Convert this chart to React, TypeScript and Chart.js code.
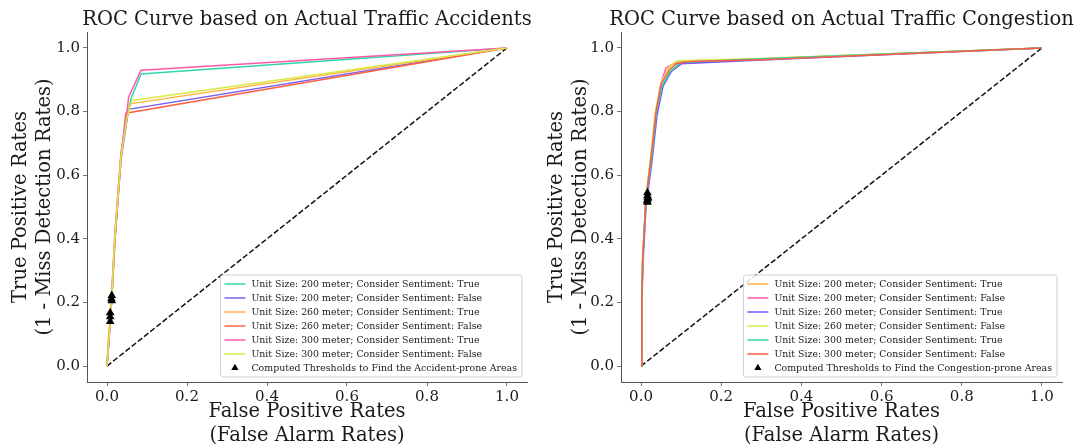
import React, { useEffect, useRef } from 'react';
import { Chart, registerables } from 'chart.js';
Chart.register(...registerables);

const FONT = "'DejaVu Serif', serif";
const TEXT = '#1a1a1a';
const SPINE = '#555555';

const tickValues = [0, 0.2, 0.4, 0.6, 0.8, 1.0];
const tickLabels = ['0.0', '0.2', '0.4', '0.6', '0.8', '1.0'];

const accidentTitle = 'ROC Curve based on Actual Traffic Accidents';
const congestionTitle = 'ROC Curve based on Actual Traffic Congestion';
const xTitle = ['False Positive Rates', '(False Alarm Rates)'];
const yTitle = ['True Positive Rates', '(1 - Miss Detection Rates)'];

const diagX = [0, 1];
const diagY = [0, 1];

// ---------- Accidents panel ----------
const accLabels = [
  'Unit Size: 200 meter; Consider Sentiment: True',
  'Unit Size: 200 meter; Consider Sentiment: False',
  'Unit Size: 260 meter; Consider Sentiment: True',
  'Unit Size: 260 meter; Consider Sentiment: False',
  'Unit Size: 300 meter; Consider Sentiment: True',
  'Unit Size: 300 meter; Consider Sentiment: False',
];
const accColors = ['#33d6aa', '#7b63ef', '#ffb347', '#ff6347', '#ff5aa8', '#d9ea4a'];
const accThresholdLabel = 'Computed Thresholds to Find the Accident-prone Areas';

const acc200TrueFpr = [0, 0.004, 0.012, 0.02, 0.035, 0.05, 0.06, 0.085, 1];
const acc200TrueTpr = [0, 0.06, 0.22, 0.4, 0.66, 0.78, 0.84, 0.918, 1];
const acc200FalseFpr = [0, 0.004, 0.012, 0.02, 0.035, 0.054, 1];
const acc200FalseTpr = [0, 0.07, 0.21, 0.4, 0.65, 0.807, 1];
const acc260TrueFpr = [0, 0.003, 0.011, 0.02, 0.035, 0.05, 0.06, 1];
const acc260TrueTpr = [0, 0.08, 0.22, 0.42, 0.67, 0.79, 0.825, 1];
const acc260FalseFpr = [0, 0.004, 0.012, 0.02, 0.035, 0.047, 1];
const acc260FalseTpr = [0, 0.07, 0.21, 0.4, 0.65, 0.795, 1];
const acc300TrueFpr = [0, 0.004, 0.012, 0.02, 0.035, 0.05, 0.054, 0.085, 1];
const acc300TrueTpr = [0, 0.07, 0.23, 0.42, 0.67, 0.8, 0.845, 0.93, 1];
const acc300FalseFpr = [0, 0.004, 0.012, 0.02, 0.035, 0.05, 0.0625, 1];
const acc300FalseTpr = [0, 0.07, 0.22, 0.41, 0.66, 0.78, 0.835, 1];

const accThresholdFpr = [0.012, 0.012, 0.008, 0.008, 0.008, 0.011];
const accThresholdTpr = [0.222, 0.205, 0.168, 0.155, 0.14, 0.212];

// ---------- Congestion panel ----------
const conLabels = [
  'Unit Size: 200 meter; Consider Sentiment: True',
  'Unit Size: 200 meter; Consider Sentiment: False',
  'Unit Size: 260 meter; Consider Sentiment: True',
  'Unit Size: 260 meter; Consider Sentiment: False',
  'Unit Size: 300 meter; Consider Sentiment: True',
  'Unit Size: 300 meter; Consider Sentiment: False',
];
const conColors = ['#ffb347', '#ff5aa8', '#6f5cff', '#d9ea4a', '#33d69a', '#ff5a4a'];
const conThresholdLabel = 'Computed Thresholds to Find the Congestion-prone Areas';

const con200TrueFpr = [0, 0.002, 0.004, 0.012, 0.025, 0.037, 0.05, 0.068, 0.085, 0.3, 1];
const con200TrueTpr = [0, 0.21, 0.34, 0.52, 0.66, 0.8, 0.885, 0.935, 0.955, 0.966, 1];
const con200FalseFpr = [0, 0.002, 0.004, 0.012, 0.025, 0.037, 0.05, 0.062, 0.08, 0.3, 1];
const con200FalseTpr = [0, 0.2, 0.33, 0.52, 0.665, 0.8, 0.89, 0.937, 0.95, 0.965, 1];
const con260TrueFpr = [0, 0.002, 0.005, 0.013, 0.027, 0.04, 0.055, 0.075, 0.1, 0.3, 1];
const con260TrueTpr = [0, 0.19, 0.33, 0.51, 0.64, 0.79, 0.88, 0.925, 0.95, 0.962, 1];
const con260FalseFpr = [0, 0.002, 0.004, 0.012, 0.025, 0.037, 0.05, 0.07, 0.09, 0.3, 1];
const con260FalseTpr = [0, 0.2, 0.34, 0.53, 0.67, 0.81, 0.89, 0.94, 0.96, 0.967, 1];
const con300TrueFpr = [0, 0.002, 0.004, 0.012, 0.026, 0.038, 0.052, 0.072, 0.1, 0.3, 1];
const con300TrueTpr = [0, 0.2, 0.33, 0.52, 0.65, 0.795, 0.88, 0.925, 0.955, 0.966, 1];
const con300FalseFpr = [0, 0.002, 0.004, 0.012, 0.025, 0.037, 0.05, 0.07, 0.09, 0.12, 0.3, 1];
const con300FalseTpr = [0, 0.21, 0.33, 0.52, 0.655, 0.797, 0.886, 0.93, 0.952, 0.957, 0.963, 1];

const conThresholdFpr = [0.016, 0.016, 0.017, 0.015, 0.016, 0.017];
const conThresholdTpr = [0.545, 0.535, 0.525, 0.52, 0.515, 0.53];

const zip = (xs: number[], ys: number[]) => xs.map((x, i) => ({ x, y: ys[i] }));

type Panel = {
  title: string;
  labels: string[];
  colors: string[];
  fprs: number[][];
  tprs: number[][];
  thrFpr: number[];
  thrTpr: number[];
  thrLabel: string;
  yAxisWidth: number;
  padRight: number;
  yTitlePad: number;
};

const accPanel: Panel = {
  title: accidentTitle,
  labels: accLabels,
  colors: accColors,
  fprs: [acc200TrueFpr, acc200FalseFpr, acc260TrueFpr, acc260FalseFpr, acc300TrueFpr, acc300FalseFpr],
  tprs: [acc200TrueTpr, acc200FalseTpr, acc260TrueTpr, acc260FalseTpr, acc300TrueTpr, acc300FalseTpr],
  thrFpr: accThresholdFpr,
  thrTpr: accThresholdTpr,
  thrLabel: accThresholdLabel,
  yAxisWidth: 87,
  padRight: 10,
  yTitlePad: 8.5,
};

const conPanel: Panel = {
  title: congestionTitle,
  labels: conLabels,
  colors: conColors,
  fprs: [con200TrueFpr, con200FalseFpr, con260TrueFpr, con260FalseFpr, con300TrueFpr, con300FalseFpr],
  tprs: [con200TrueTpr, con200FalseTpr, con260TrueTpr, con260FalseTpr, con300TrueTpr, con300FalseTpr],
  thrFpr: conThresholdFpr,
  thrTpr: conThresholdTpr,
  thrLabel: conThresholdLabel,
  yAxisWidth: 84,
  padRight: 13,
  yTitlePad: 7.5,
};

function makeConfig(p: Panel): any {
  const n = p.labels.length;
  const total = n + 2;
  const datasets: any[] = [];
  datasets.push({
    label: 'diag',
    data: zip(diagX, diagY),
    showLine: true,
    borderColor: '#111',
    borderWidth: 1.5,
    borderDash: [5.5, 2.4],
    pointRadius: 0,
    order: total,
  });
  for (let i = 0; i < n; i++) {
    datasets.push({
      label: p.labels[i],
      data: zip(p.fprs[i], p.tprs[i]),
      showLine: true,
      borderColor: p.colors[i],
      borderWidth: 1.5,
      pointRadius: 0,
      tension: 0,
      order: total - 1 - i,
    });
  }
  datasets.push({
    label: p.thrLabel,
    data: zip(p.thrFpr, p.thrTpr),
    showLine: false,
    pointStyle: 'triangle',
    pointRadius: 5,
    backgroundColor: '#000',
    borderColor: '#000',
    borderWidth: 0,
    order: 0,
  });

  const axis = (isX: boolean) => ({
    type: 'linear',
    min: -0.05,
    max: 1.05,
    afterBuildTicks: (s: any) => {
      s.ticks = tickValues.map((v) => ({ value: v }));
    },
    afterFit: (s: any) => {
      if (isX) s.height = 66;
      else s.width = p.yAxisWidth;
    },
    ticks: {
      callback: (_v: any, idx: number) => tickLabels[idx],
      font: { family: FONT, size: 15 },
      color: TEXT,
      padding: isX ? 2 : 3,
      maxRotation: 0,
      autoSkip: false,
    },
    grid: {
      display: true,
      drawOnChartArea: false,
      drawTicks: true,
      tickLength: 4,
      color: SPINE,
      lineWidth: 0.8,
    },
    border: { display: true, color: SPINE, width: 1 },
    title: {
      display: true,
      text: isX ? xTitle : yTitle,
      font: { family: FONT, size: 19.5, lineHeight: '24px' },
      color: TEXT,
      padding: isX ? { top: 0, bottom: 0 } : { top: p.yTitlePad, bottom: 0 },
    },
  });

  const overlay = {
    id: 'overlay' + p.title.length,
    afterDraw(chart: any) {
      const ctx = chart.ctx;
      const ca = chart.chartArea;
      ctx.save();
      // title
      ctx.font = `19.5px ${FONT}`;
      ctx.fillStyle = TEXT;
      ctx.textAlign = 'center';
      ctx.textBaseline = 'middle';
      ctx.fillText(p.title, (ca.left + ca.right) / 2, 20);

      // legend
      ctx.font = `9.4px ${FONT}`;
      const allLabels = [...p.labels, p.thrLabel];
      const textW = Math.max(...allLabels.map((l) => ctx.measureText(l).width));
      const rowH = 14;
      const boxW = 31 + textW + 5;
      const boxH = rowH * (allLabels.length - 1) + 18;
      const bx = ca.right - 5 - boxW;
      const by = ca.bottom - 5 - boxH;
      ctx.beginPath();
      const r = 3;
      ctx.moveTo(bx + r, by);
      ctx.lineTo(bx + boxW - r, by);
      ctx.arcTo(bx + boxW, by, bx + boxW, by + r, r);
      ctx.lineTo(bx + boxW, by + boxH - r);
      ctx.arcTo(bx + boxW, by + boxH, bx + boxW - r, by + boxH, r);
      ctx.lineTo(bx + r, by + boxH);
      ctx.arcTo(bx, by + boxH, bx, by + boxH - r, r);
      ctx.lineTo(bx, by + r);
      ctx.arcTo(bx, by, bx + r, by, r);
      ctx.closePath();
      ctx.fillStyle = 'rgba(255,255,255,0.85)';
      ctx.fill();
      ctx.strokeStyle = '#d0d0d0';
      ctx.lineWidth = 1;
      ctx.stroke();

      ctx.textAlign = 'left';
      ctx.textBaseline = 'middle';
      for (let i = 0; i < allLabels.length; i++) {
        const cy = by + 9 + i * rowH;
        if (i < p.labels.length) {
          ctx.beginPath();
          ctx.strokeStyle = p.colors[i];
          ctx.lineWidth = 1.5;
          ctx.moveTo(bx + 4, cy);
          ctx.lineTo(bx + 25, cy);
          ctx.stroke();
        } else {
          const tx = bx + 14.5;
          const tr = 4.2;
          ctx.beginPath();
          ctx.fillStyle = '#000';
          ctx.moveTo(tx, cy - tr);
          ctx.lineTo(tx + tr * 0.866, cy + tr * 0.5);
          ctx.lineTo(tx - tr * 0.866, cy + tr * 0.5);
          ctx.closePath();
          ctx.fill();
        }
        ctx.fillStyle = TEXT;
        ctx.fillText(allLabels[i], bx + 31, cy + 0.5);
      }
      ctx.restore();
    },
  };

  return {
    type: 'scatter',
    data: { datasets },
    options: {
      animation: false,
      responsive: false,
      maintainAspectRatio: false,
      layout: { padding: { top: 32, right: p.padRight, left: 0, bottom: 0 } },
      plugins: {
        legend: { display: false },
        tooltip: { enabled: false },
        title: { display: false },
      },
      scales: { x: axis(true), y: axis(false) },
    },
    plugins: [overlay],
  };
}

function PanelChart({ panel, left, width }: { panel: Panel; left: number; width: number }) {
  const ref = useRef<HTMLCanvasElement | null>(null);
  useEffect(() => {
    if (!ref.current) return;
    const chart = new Chart(ref.current, makeConfig(panel));
    return () => chart.destroy();
  }, [panel]);
  return (
    <div style={{ position: 'absolute', left, top: 0, width, height: 448 }}>
      <canvas ref={ref} width={width} height={448} style={{ display: 'block', width, height: 448 }} />
    </div>
  );
}

export default function App() {
  return (
    <div style={{ position: 'fixed', left: 0, top: 0, width: 1075, height: 448, background: '#ffffff' }}>
      <PanelChart panel={accPanel} left={0} width={537} />
      <PanelChart panel={conPanel} left={537} width={538} />
    </div>
  );
}
